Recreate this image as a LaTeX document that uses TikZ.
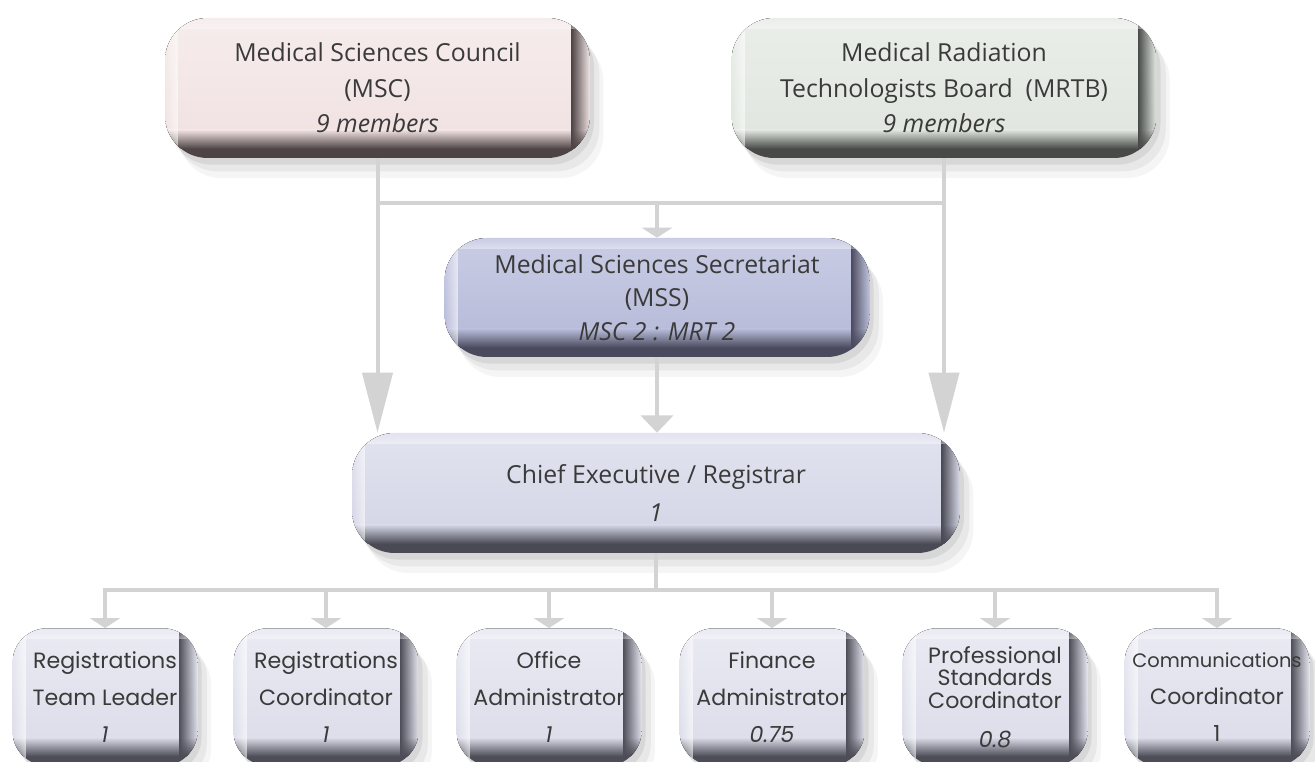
\documentclass[tikz,border=0pt]{standalone}
\usepackage{fontspec}
\setmainfont{Open Sans}
\newfontfamily\botfamily{Poppins}
\usetikzlibrary{arrows.meta,fadings}
\definecolor{txt}{HTML}{3A3A3A}
\definecolor{linec}{HTML}{D3D3D3}
\definecolor{mscB}{HTML}{F2E3E3}\definecolor{mscL}{HTML}{F6ECEC}\definecolor{mscD}{HTML}{4E4446}
\definecolor{mrtB}{HTML}{E1E7E0}\definecolor{mrtL}{HTML}{EAEEE9}\definecolor{mrtD}{HTML}{474A47}
\definecolor{mssB}{HTML}{B9BDDA}\definecolor{mssL}{HTML}{C9CCE4}\definecolor{mssD}{HTML}{4A4A5E}
\definecolor{ceoB}{HTML}{D5D7E7}\definecolor{ceoL}{HTML}{E2E3EF}\definecolor{ceoD}{HTML}{4A4A55}
\definecolor{botB}{HTML}{DEDEEB}\definecolor{botL}{HTML}{EAEAF3}\definecolor{botD}{HTML}{4D4D58}
\tikzset{
  card/.style n args={3}{
    rounded corners=32pt, align=center, text=txt, inner sep=0pt,
    preaction={fill=black, fill opacity=0.04, transform canvas={xshift=10pt,yshift=-15pt}},
    preaction={fill=black, fill opacity=0.05, transform canvas={xshift=7pt,yshift=-10pt}},
    preaction={fill=black, fill opacity=0.07, transform canvas={xshift=3pt,yshift=-5pt}},
    path picture={
      \fill[#3, sharp corners] (path picture bounding box.south west) rectangle (path picture bounding box.north east);
      \fill[top color=#2, bottom color=#1, sharp corners] (path picture bounding box.north west) rectangle ([yshift=21pt]path picture bounding box.south east);
      \fill[top color=#1, bottom color=#3, sharp corners] ([yshift=21.2pt]path picture bounding box.south west) rectangle ([yshift=7pt]path picture bounding box.south east);
      \fill[#3, sharp corners, path fading=east] ([xshift=-14pt]path picture bounding box.south east) rectangle (path picture bounding box.north east);
      \fill[white, fill opacity=0.6, sharp corners, path fading=west] (path picture bounding box.south west) rectangle ([xshift=10pt]path picture bounding box.north west);
      \fill[white, fill opacity=0.4, sharp corners, path fading=north] ([yshift=-8pt]path picture bounding box.north west) rectangle (path picture bounding box.north east);
    }
  },
  topbox/.style={minimum width=318.75pt, minimum height=105pt, font=\fontsize{18.6pt}{26.5pt}\selectfont},
  botbox/.style={card={botB}{botL}{botD}, minimum width=138.75pt, minimum height=103pt, rounded corners=26pt,
    font=\botfamily\fontsize{16.6pt}{28pt}\selectfont},
  conn/.style={draw=linec, line width=3pt},
  bigtip/.style={conn, -{Triangle[width=22.5pt,length=45pt]}},
  smalltip/.style={conn, -{Triangle[width=22.5pt,length=7.5pt]}},
  midtip/.style={conn, -{Triangle[width=24pt,length=13pt]}}
}
\begin{document}
\begin{tikzpicture}[x=0.75pt,y=-0.75pt]
\useasboundingbox (0,0) rectangle (1315,762);
\fill[white] (0,0) rectangle (1315,762);

\node[card={mscB}{mscL}{mscD}, topbox] (msc) at (377.5,88)
  {Medical Sciences Council\\(MSC)\\\textit{9 members}};
\node[card={mrtB}{mrtL}{mrtD}, topbox] (mrtb) at (944,88)
  {Medical Radiation\\Technologists Board~ (MRTB)\\\textit{9 members}};
\node[card={mssB}{mssL}{mssD}, minimum width=318.75pt, minimum height=89.25pt,
  font=\fontsize{18.6pt}{25pt}\selectfont] (mss) at (657,297.5)
  {Medical Sciences Secretariat\\(MSS)\\\textit{MSC 2 : MRT 2}};
\node[card={ceoB}{ceoL}{ceoD}, minimum width=456pt, minimum height=90pt,
  font=\fontsize{18.6pt}{28.5pt}\selectfont] (ceo) at (656,493)
  {Chief Executive / Registrar\\\textit{1}};

\node[botbox] (b1) at (105,697) {Registrations\\Team Leader\\\textit{1}};
\node[botbox] (b2) at (326,697) {Registrations\\Coordinator\\\textit{1}};
\node[botbox] (b3) at (549,697) {Office\\Administrator\\\textit{1}};
\node[botbox] (b4) at (772,697) {Finance\\Administrator\\\textit{0.75}};
\node[botbox] (b5) at (995,697) {Professional\\[-11pt]Standards\\[-11pt]Coordinator\\[1pt]\textit{0.8}};
\node[botbox] (b6) at (1217,697) {{\fontsize{14.6pt}{28pt}\selectfont Communications}\\Coordinator\\1};

\coordinate (hub) at (0,203);
\coordinate (bus) at (0,590);
\draw[bigtip] (msc.south) -- (msc.south |- ceo.north);
\draw[bigtip] (mrtb.south) -- (mrtb.south |- ceo.north);
\draw[conn, line cap=rect] (msc.south |- hub) -- (mrtb.south |- hub);
\draw[smalltip] (mss.north |- hub) -- (mss.north);
\draw[midtip] (mss.south) -- (mss.south |- ceo.north);
\draw[conn] (ceo.south) -- (ceo.south |- bus);
\draw[conn, line cap=rect] (b1.north |- bus) -- (b6.north |- bus);
\foreach \b in {b1,b2,b3,b4,b5,b6}
  \draw[smalltip] (\b.north |- bus) -- (\b.north);
\end{tikzpicture}
\end{document}
